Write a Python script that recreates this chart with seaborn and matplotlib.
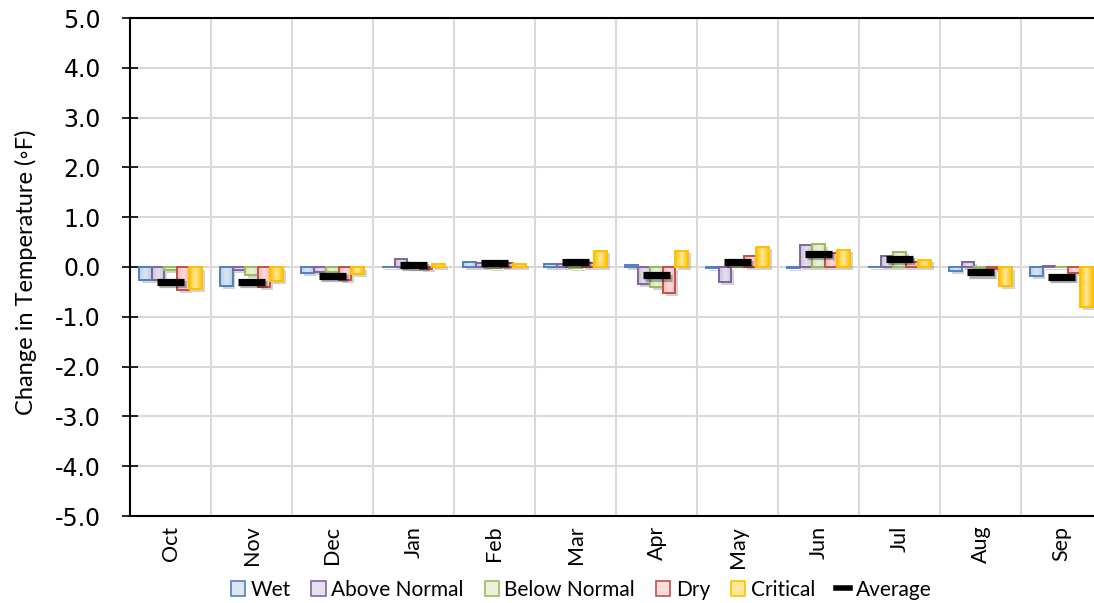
import numpy as np
import pandas as pd
import matplotlib
matplotlib.use("Agg")
import matplotlib.pyplot as plt
import matplotlib.patheffects as pe
from matplotlib.patches import Rectangle, Patch
from matplotlib.lines import Line2D
from matplotlib.colors import to_rgb
import seaborn as sns

months = ["Oct", "Nov", "Dec", "Jan", "Feb", "Mar", "Apr", "May", "Jun", "Jul", "Aug", "Sep"]
scenarios = ["Wet", "Above Normal", "Below Normal", "Dry", "Critical"]

wet          = [-0.27, -0.39, -0.13, 0.01, 0.10, 0.07, 0.04, -0.03, -0.02, 0.01, -0.08, -0.18]
above_normal = [-0.26, -0.06, -0.11, 0.17, 0.08, 0.06, -0.35, -0.31, 0.45, 0.22, 0.11, 0.02]
below_normal = [-0.06, -0.16, -0.11, -0.02, -0.03, -0.03, -0.41, -0.01, 0.46, 0.31, -0.02, 0.01]
dry          = [-0.47, -0.41, -0.26, -0.04, 0.08, 0.09, -0.53, 0.22, 0.29, 0.11, -0.05, -0.12]
critical     = [-0.44, -0.29, -0.15, 0.06, 0.07, 0.33, 0.33, 0.41, 0.35, 0.15, -0.39, -0.80]
average      = [-0.30, -0.30, -0.18, 0.04, 0.08, 0.10, -0.17, 0.10, 0.27, 0.16, -0.11, -0.20]

y_ticks = [-5.0, -4.0, -3.0, -2.0, -1.0, 0.0, 1.0, 2.0, 3.0, 4.0, 5.0]

series = [wet, above_normal, below_normal, dry, critical]
df = pd.DataFrame({
    "Month": months * len(scenarios),
    "Scenario": np.repeat(scenarios, len(months)),
    "Change": np.concatenate(series),
})

edge_colors = ["#4f81bd", "#8064a2", "#9bbb59", "#c0504d", "#ffc000"]
dark_fill = ["#b9cde5", "#ccc1da", "#d7e4bd", "#f2b8b7", "#ffc000"]
light_fill = ["#dce6f2", "#e6e0ec", "#ebf1de", "#fbdcdb", "#ffe89a"]

plt.rcParams["font.family"] = ["Lato", "DejaVu Sans"]

fig = plt.figure(figsize=(10.94, 6.03), dpi=100)
ax = fig.add_axes([130 / 1094, 1 - 516 / 603, 972 / 1094, 498 / 603])

sns.barplot(data=df, x="Month", y="Change", hue="Scenario", order=months,
            hue_order=scenarios, palette=dark_fill, width=0.78, ax=ax,
            legend=False, errorbar=None, zorder=2)

shadow = [pe.SimplePatchShadow(offset=(2, -2), shadow_rgbFace="#808080", alpha=0.35), pe.Normal()]

# horizontal gradient (darker at the sides, lighter in the middle) per bar
for cont, c0, c1, ec in zip(ax.containers, dark_fill, light_fill, edge_colors):
    a = np.array(to_rgb(c0))
    b = np.array(to_rgb(c1))
    t = np.linspace(0, 1, 64)
    w = 1 - np.abs(2 * t - 1)
    grad = (a[None, :] * (1 - w[:, None]) + b[None, :] * w[:, None])[None, :, :]
    for bar in cont.patches:
        bar.set_path_effects(shadow)
        bar.set_edgecolor("none")
        x0, y0 = bar.get_x(), bar.get_y()
        bw, bh = bar.get_width(), bar.get_height()
        y_lo, y_hi = min(y0, y0 + bh), max(y0, y0 + bh)
        im = ax.imshow(grad, extent=(x0, x0 + bw, y_lo, y_hi), aspect="auto",
                       interpolation="bilinear", zorder=2.5)
        im.set_clip_path(bar)
        ax.add_patch(Rectangle((x0, y0), bw, bh, facecolor="none", edgecolor=ec,
                               linewidth=1.4, zorder=3))

xpos = np.arange(len(months))
ax.plot(xpos, average, linestyle="none", marker="_", markersize=19.5,
        markeredgewidth=5.2, color="black", zorder=4,
        path_effects=[pe.SimpleLineShadow(offset=(1.5, -1.5), alpha=0.3), pe.Normal()])

ax.set_xlim(-0.5, len(months) - 0.5)
ax.set_ylim(-5, 5)
ax.set_yticks(y_ticks)
ax.set_yticklabels([f"{v:.1f}" for v in y_ticks], family=["DejaVu Sans"])
ax.set_xticks(xpos)
ax.set_xticklabels(months, rotation=90)
ax.set_xticks(np.arange(-0.5, len(months), 1.0), minor=True)

ax.grid(False)
ax.yaxis.grid(True, color="#d9d9d9", linewidth=1.5, zorder=0)
ax.xaxis.grid(True, which="minor", color="#d9d9d9", linewidth=1.5, zorder=0)
ax.set_axisbelow(True)

for s in ["left", "bottom", "top"]:
    ax.spines[s].set_color("black")
    ax.spines[s].set_linewidth(1.5)
ax.spines["right"].set_visible(False)

ax.tick_params(axis="y", direction="inout", length=12, width=1.2, pad=15,
               labelsize=17, colors="black")
ax.tick_params(axis="x", which="both", length=0, pad=7, labelsize=15.5)
ax.set_xlabel("")
ax.set_ylabel("Change in Temperature (\u25e6F)", fontsize=17)
ax.yaxis.set_label_coords(-0.096, 0.49)

handles = [Patch(facecolor=lf, edgecolor=ec, linewidth=1.2)
           for lf, ec in zip(light_fill, edge_colors)]
handles.append(Line2D([0], [0], color="black", linewidth=4))
labels = scenarios + ["Average"]
fig.legend(handles, labels, loc="center", bbox_to_anchor=(0.531, 0.022), ncol=6,
           frameon=False, fontsize=15, handlelength=0.7, handleheight=0.7,
           handletextpad=0.25, columnspacing=1.0)

fig.savefig("out.png", dpi=100)
